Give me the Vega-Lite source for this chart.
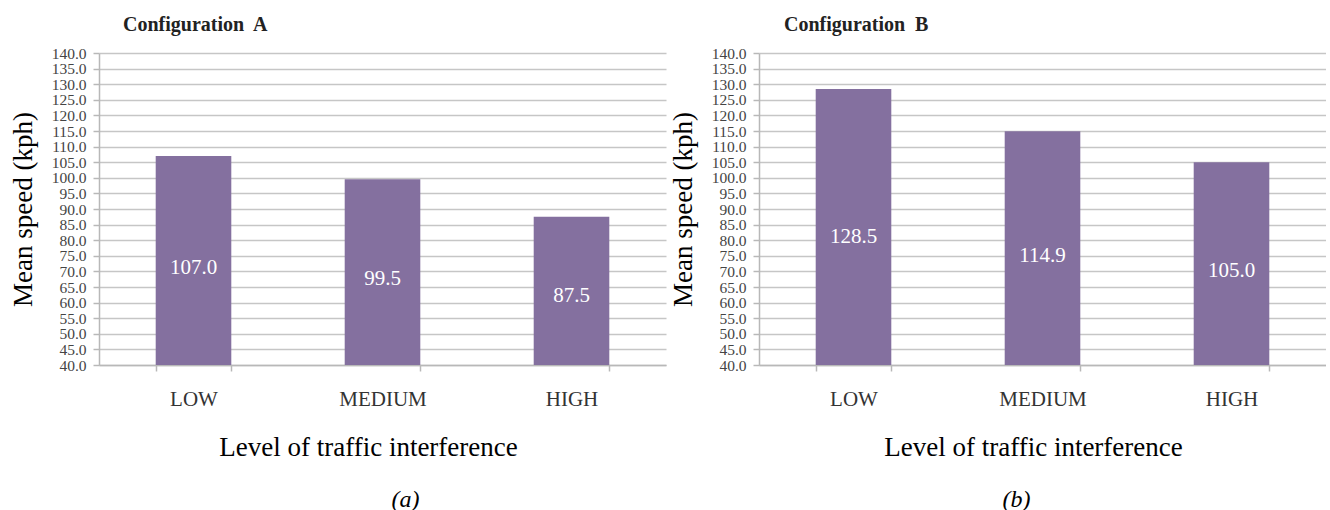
{
  "$schema": "https://vega.github.io/schema/vega-lite/v6.json",
  "background": "white",
  "padding": {"left": 9, "top": 15, "right": 0, "bottom": 0},
  "config": {
    "view": {"stroke": null},
    "font": "serif",
    "axis": {
      "labelFont": "serif",
      "titleFont": "serif",
      "titleFontWeight": "normal",
      "titleColor": "#000000",
      "domainColor": "#b8b8b8",
      "tickColor": "#b8b8b8",
      "gridColor": "#c6c6c6",
      "domainWidth": 1.5,
      "gridWidth": 1.5,
      "tickWidth": 1.5
    }
  },
  "spacing": 3,
  "hconcat": [
    {
      "title": {"text": "(a)", "orient": "bottom", "anchor": "middle", "font": "serif", "fontStyle": "italic", "fontWeight": "normal", "fontSize": 24, "color": "#000000", "dx": 68, "offset": 28},
      "vconcat": [
        {
          "title": {"text": "Configuration\u00a0 A", "anchor": "start", "frame": "group", "dx": 24, "fontSize": 20, "fontWeight": "bold", "font": "serif", "color": "#222222", "offset": 11},
          "width": 567,
          "height": 312,
          "data": {"values": [
            {"level": "LOW", "speed": 107.0},
            {"level": "MEDIUM", "speed": 99.5},
            {"level": "HIGH", "speed": 87.5}
          ]},
          "layer": [
            {
              "mark": {"type": "bar", "color": "#84709f"},
              "encoding": {
                "x": {"field": "level", "type": "nominal", "sort": ["LOW", "MEDIUM", "HIGH"], "scale": {"paddingInner": 0.6, "paddingOuter": 0.3},
                  "axis": {"title": "Level of traffic interference", "labelAngle": 0, "tickBand": "extent", "tickSize": 6, "labelFontSize": 21, "labelColor": "#333333", "labelPadding": 17, "titleFontSize": 27, "titlePadding": 25, "grid": false, "titleX": 269}},
                "y": {"field": "speed", "type": "quantitative", "scale": {"domain": [40, 140], "nice": false, "zero": false},
                  "axis": {"title": "Mean speed (kph)", "values": [40, 45, 50, 55, 60, 65, 70, 75, 80, 85, 90, 95, 100, 105, 110, 115, 120, 125, 130, 135, 140], "format": ".1f", "labelFontSize": 15.5, "labelColor": "#444444", "labelOverlap": false, "tickSize": 6, "labelPadding": 7, "titleFontSize": 27, "titlePadding": 14, "grid": true}},
                "y2": {"datum": 40}
              }
            },
            {
              "mark": {"type": "text", "color": "white", "fontSize": 21, "font": "serif"},
              "encoding": {
                "x": {"field": "level", "type": "nominal", "sort": ["LOW", "MEDIUM", "HIGH"]},
                "y": {"field": "speed", "type": "quantitative", "scale": {"domain": [40, 255], "nice": false, "zero": false}, "axis": null},
                "text": {"field": "speed", "type": "quantitative", "format": ".1f"}
              }
            }
          ],
          "resolve": {"scale": {"y": "independent"}}
        }
      ]
    },
    {
      "title": {"text": "(b)", "orient": "bottom", "anchor": "middle", "font": "serif", "fontStyle": "italic", "fontWeight": "normal", "fontSize": 24, "color": "#000000", "dx": 19, "offset": 28},
      "vconcat": [
        {
          "title": {"text": "Configuration\u00a0 B", "anchor": "start", "frame": "group", "dx": 25, "fontSize": 20, "fontWeight": "bold", "font": "serif", "color": "#222222", "offset": 11},
          "width": 567,
          "height": 312,
          "data": {"values": [
            {"level": "LOW", "speed": 128.5},
            {"level": "MEDIUM", "speed": 114.9},
            {"level": "HIGH", "speed": 105.0}
          ]},
          "layer": [
            {
              "mark": {"type": "bar", "color": "#84709f"},
              "encoding": {
                "x": {"field": "level", "type": "nominal", "sort": ["LOW", "MEDIUM", "HIGH"], "scale": {"paddingInner": 0.6, "paddingOuter": 0.3},
                  "axis": {"title": "Level of traffic interference", "labelAngle": 0, "tickBand": "extent", "tickSize": 6, "labelFontSize": 21, "labelColor": "#333333", "labelPadding": 17, "titleFontSize": 27, "titlePadding": 25, "grid": false, "titleX": 274}},
                "y": {"field": "speed", "type": "quantitative", "scale": {"domain": [40, 140], "nice": false, "zero": false},
                  "axis": {"title": "Mean speed (kph)", "values": [40, 45, 50, 55, 60, 65, 70, 75, 80, 85, 90, 95, 100, 105, 110, 115, 120, 125, 130, 135, 140], "format": ".1f", "labelFontSize": 15.5, "labelColor": "#444444", "labelOverlap": false, "tickSize": 6, "labelPadding": 7, "titleFontSize": 27, "titlePadding": 14, "grid": true}},
                "y2": {"datum": 40}
              }
            },
            {
              "mark": {"type": "text", "color": "white", "fontSize": 21, "font": "serif"},
              "encoding": {
                "x": {"field": "level", "type": "nominal", "sort": ["LOW", "MEDIUM", "HIGH"]},
                "y": {"field": "speed", "type": "quantitative", "scale": {"domain": [40, 255], "nice": false, "zero": false}, "axis": null},
                "text": {"field": "speed", "type": "quantitative", "format": ".1f"}
              }
            }
          ],
          "resolve": {"scale": {"y": "independent"}}
        }
      ]
    }
  ]
}
